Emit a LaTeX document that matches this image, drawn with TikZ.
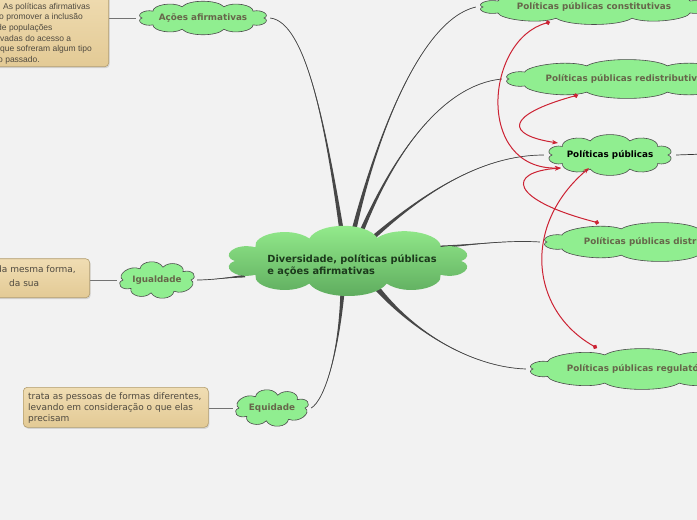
\documentclass[tikz,border=0pt]{standalone}
\usepackage{fontspec}
\setmainfont{DejaVu Sans}
\newfontfamily\arialfont{Liberation Sans}
\usetikzlibrary{shadows,arrows.meta,calc}

\definecolor{bg}{HTML}{F2F2F2}
\definecolor{cloudfill}{HTML}{90EE90}
\definecolor{cloudtext}{HTML}{66664A}
\definecolor{ctop}{HTML}{96EE8E}
\definecolor{cbot}{HTML}{5CA95C}
\definecolor{ctext}{HTML}{1C3A1C}
\definecolor{linkred}{HTML}{CC2233}
\definecolor{boxtop}{HTML}{F0DDB3}
\definecolor{boxbot}{HTML}{E3CA95}
\definecolor{boxline}{HTML}{B29D6E}
\definecolor{branchc}{HTML}{474747}
\definecolor{notetext}{HTML}{4F4A40}

\pgfdeclarelayer{back}
\pgfdeclarelayer{clouds}
\pgfsetlayers{back,clouds,main}

% tapered branch: start, half-width vector, control 1, control 2, end
\newcommand{\mmbranch}[5]{%
  \fill[branchc] ($(#1)+(#2)$) .. controls (#3) and (#4) .. (#5)
     .. controls (#4) and (#3) .. ($(#1)-(#2)$) -- cycle;
  \draw[branchc, line width=0.7pt] (#1) .. controls (#3) and (#4) .. (#5);}

% cloud outline: centre, a, b, bump depth, angle list, style
\newcommand{\cloudpath}[6]{%
  \path[#6] ($(#1)+(0:#2pt and #3pt)$)
   \foreach \t [remember=\t as \lt (initially 0)] in {#5} {
     .. controls ($(#1)+({\lt+0.2*(\t-\lt)}:#2pt+#4pt and #3pt+#4pt)$)
        and ($(#1)+({\t-0.2*(\t-\lt)}:#2pt+#4pt and #3pt+#4pt)$)
     .. ($(#1)+(\t:#2pt and #3pt)$)
   } -- cycle;}

\begin{document}
\begin{tikzpicture}[x=1pt,y=-1pt,
  every node/.style={inner sep=0pt},
  childtxt/.style={rectangle, text=cloudtext, font=\fontsize{8.8}{10}\selectfont\bfseries},
  cloudline/.style={draw=black!70, line width=0.6pt, fill=cloudfill},
  notebox/.style={draw=boxline, line width=0.6pt, rounded corners=4pt,
    top color=boxtop, bottom color=boxbot,
    drop shadow={shadow xshift=1pt, shadow yshift=-1.5pt, opacity=0.25}},
  notetxt/.style={text=notetext, font=\fontsize{9}{11}\selectfont, anchor=base west},
  leaf/.style={draw=black!55, line width=0.8pt},
  rel/.style={draw=linkred, line width=1pt, {Circle[length=4.5pt]}-{Stealth[length=6pt,width=4.5pt]}}
]
\useasboundingbox (0,0) rectangle (697,520);
\begin{pgfonlayer}{back}
\fill[bg] (0,0) rectangle (697,520);
\end{pgfonlayer}

% ---------- text nodes (named) ----------
\node[childtxt, minimum width=236pt, minimum height=36pt] (constit) at (594,7) {Políticas públicas constitutivas};
\node[childtxt, minimum width=250pt, minimum height=40pt] (redis) at (627,79) {Políticas públicas redistributivas};
\node[childtxt, minimum width=132pt, minimum height=42pt, text=black] (pp) at (610,155) {Políticas públicas};
\node[childtxt, minimum width=240pt, minimum height=40pt] (distr) at (660,242) {Políticas públicas distributivas};
\node[childtxt, minimum width=232pt, minimum height=42pt] (regul) at (642,369) {Políticas públicas regulatórias};
\node[childtxt, minimum width=134pt, minimum height=35pt] (acoes) at (203,18) {Ações afirmativas};
\node[childtxt, minimum width=80pt, minimum height=38pt] (igual) at (157,280) {Igualdade};
\node[childtxt, minimum width=78pt, minimum height=38pt] (equid) at (272,408) {Equidade};
\node[rectangle, align=left, text=ctext, font=\fontsize{9.8}{12}\selectfont\bfseries] (ctr) at (352,266)
  {Diversidade, políticas públicas\\e ações afirmativas};

% ---------- clouds ----------
\begin{pgfonlayer}{clouds}
\coordinate (cc) at (348,261);
\cloudpath{cc}{113}{24}{16}{35,75,110,145,180,215,250,290,325,360}{top color=ctop, bottom color=cbot}
\cloudpath{constit}{111}{12}{8}{30,70,110,150,180,210,250,290,330,360}{cloudline}
\cloudpath{redis}{118}{14}{8}{30,70,110,150,180,210,250,290,330,360}{cloudline}
\cloudpath{pp}{58}{15}{8}{35,70,110,145,180,215,250,290,325,360}{cloudline}
\cloudpath{distr}{113}{14}{8}{30,70,110,150,180,210,250,290,330,360}{cloudline}
\cloudpath{regul}{109}{15}{8}{30,70,110,150,180,210,250,290,330,360}{cloudline}
\cloudpath{acoes}{61}{12}{7}{35,70,110,145,180,215,250,290,325,360}{cloudline}
\cloudpath{igual}{34}{13}{8}{40,80,120,180,220,260,300,360}{cloudline}
\cloudpath{equid}{33}{13}{8}{40,80,120,180,220,260,300,360}{cloudline}
\end{pgfonlayer}

% ---------- branches from the centre ----------
\begin{pgfonlayer}{back}
\coordinate (sA) at (343,240);
\coordinate (sC) at (352,238);
\coordinate (sR) at (358,240);
\coordinate (sP) at (366,244);
\coordinate (sD) at (440,247);
\coordinate (sG) at (372,282);
\coordinate (sE) at (343,282);
\coordinate (sI) at (245,276);
\mmbranch{sA}{2.4,0}{325,120}{305,22}{acoes.east}
\mmbranch{sC}{2.6,0}{375,140}{420,20}{constit.west}
\mmbranch{sR}{2.6,0}{390,160}{440,85}{redis.west}
\mmbranch{sP}{0,3.2}{420,195}{480,155}{pp.west}
\mmbranch{sD}{0,1.4}{480,244}{510,240}{distr.west}
\mmbranch{sG}{2.2,-2.2}{410,330}{470,367}{regul.west}
\mmbranch{sE}{2.4,0}{340,350}{325,400}{equid.east}
\mmbranch{sI}{0,1.4}{225,278}{210,280}{igual.east}
\end{pgfonlayer}

% ---------- note boxes ----------
\node[notebox, minimum width=125pt, minimum height=80pt, anchor=south east] (acnote) at (109,67) {};
\node[notebox, minimum width=110pt, minimum height=39pt, anchor=south east] (ignote) at (90,298) {};
\node[notebox, minimum width=185pt, minimum height=40pt, anchor=north west] (eqnote) at (23,387) {};

\begin{scope}[notetxt/.append style={font=\arialfont\fontsize{8.5}{10.7}\selectfont}]
\node[notetxt] (a1) at (3,9) {As políticas afirmativas};
\node[notetxt] (a2) at (-1,19.7) {o promover a inclusão};
\node[notetxt] (a3) at (-3,30.4) {de populações};
\node[notetxt] (a4) at (-9.4,41.1) {privadas do acesso a};
\node[notetxt] (a5) at (0,51.8) {que sofreram algum tipo};
\node[notetxt] (a6) at (-2,62.5) {o passado.};
\end{scope}
\node[notetxt] (i1) at (-4,272) {da mesma forma,};
\node[notetxt] (i2) at (9,286) {da sua};
\node[notetxt, anchor=north west, align=left] (e1) at (28,392) {trata as pessoas de formas diferentes,\\levando em consideração o que elas\\precisam};

% ---------- leaf connectors ----------
\begin{pgfonlayer}{back}
\draw[leaf] (acnote.east |- acoes.west) -- (acoes.west);
\draw[leaf] (ignote.east |- igual.west) -- (igual.west);
\draw[leaf] (eqnote.east |- equid.west) -- (equid.west);
\coordinate (ppout) at (705,154);
\draw[black!80, line width=0.7pt] (pp.east) -- (ppout);
\end{pgfonlayer}

% ---------- relations ----------
\draw[rel] ($(constit.center)+(-44,15)$) .. controls (485,40) and (475,170) .. ($(pp.center)+(-49,13)$);
\draw[rel] ($(redis.center)+(-49,16)$) .. controls (505,115) and (505,135) .. ($(pp.center)+(-52,-12)$);
\draw[rel] ($(distr.center)+(-61,-19)$) .. controls (510,200) and (505,172) .. ($(pp.center)+(-49,13)$);
\draw[rel] ($(regul.center)+(-45,-21)$) .. controls (530,310) and (522,225) .. ($(pp.center)+(-21,13)$);
\end{tikzpicture}
\end{document}
